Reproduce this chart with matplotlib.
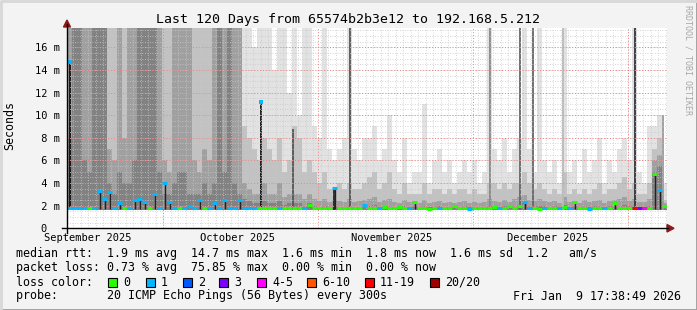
import numpy as np
import matplotlib.pyplot as plt
from matplotlib.patches import Rectangle, Polygon

W, H = 697, 310

# one value per day, day 0 = 11 Sep 2025 17:38
median = [1.8, 1.75, 1.8, 1.75, 1.8, 1.8, 3.3, 2.6, 3.2, 1.8,
          2.2, 1.8, 1.75, 2.5, 2.6, 2.3, 1.8, 3.0, 1.8, 4.0,
          2.3, 1.8, 1.75, 1.8, 2.0, 1.8, 2.5, 1.8, 1.75, 2.2,
          1.8, 2.5, 1.75, 1.8, 2.5, 1.8, 1.75, 1.8, 1.75, 1.8,
          1.75, 1.8, 1.75, 1.8, 1.75, 1.8, 1.75, 1.8, 2.1, 1.75,
          1.8, 1.75, 1.8, 3.6, 1.8, 1.75, 1.8, 1.75, 1.8, 2.1,
          1.75, 1.8, 1.75, 1.85, 1.75, 1.8, 1.9, 1.75, 1.8, 2.3,
          1.75, 1.8, 1.7, 1.8, 1.75, 1.8, 1.75, 1.95, 1.75, 1.8,
          1.7, 1.8, 1.75, 1.8, 1.75, 1.85, 1.75, 1.8, 2.0, 1.8,
          2.0, 2.3, 1.75, 1.8, 1.7, 1.8, 1.75, 1.8, 1.75, 1.85,
          1.75, 2.3, 1.75, 1.8, 1.7, 1.8, 1.75, 1.8, 1.75, 2.2,
          1.75, 1.8, 1.75, 1.8, 1.75, 1.8, 1.75, 4.8, 3.4, 2.0]

loss = [1, 1, 1, 1, 0, 1, 1, 1, 1, 1,
        1, 0, 1, 1, 1, 1, 0, 1, 1, 1,
        1, 1, 0, 1, 1, 1, 1, 0, 1, 1,
        1, 1, 1, 1, 1, 1, 1, 1, 0, 0,
        0, 0, 1, 0, 0, 0, 0, 1, 0, 0,
        0, 0, 0, 1, 0, 0, 0, 0, 0, 1,
        0, 0, 1, 0, 0, 0, 0, 0, 1, 0,
        0, 0, 0, 0, 1, 0, 0, 0, 0, 0,
        1, 0, 0, 0, 0, 0, 1, 0, 0, 0,
        0, 1, 1, 0, 0, 1, 0, 0, 1, 0,
        1, 0, 0, 0, 1, 0, 0, 1, 0, 0,
        0, 0, 0, 12, 3, 5, 0, 0, 1, 0]

# smoke band tops (ms), lightest band first
smoke_max = [18] * 30 + [
    18, 18, 18, 18, 18, 18, 18, 16, 18, 18,
    18, 14, 18, 18, 12, 18, 10, 18, 18, 9,
    8, 18, 7, 6, 7, 8, 18, 7, 6, 8,
    8, 9, 6, 7, 10, 6, 5, 8, 4, 5,
    5, 11, 4, 6, 7, 5, 6, 4, 5, 6,
    5, 6, 4, 5, 18, 7, 6, 8, 5, 7,
    8, 18, 7, 5, 18, 6, 5, 6, 4, 18,
    5, 6, 4, 7, 5, 6, 8, 4, 6, 5,
    7, 8, 6, 18, 5, 4, 9, 9, 10, 4]

smoke_mid = [18] * 35 + [
    9, 8, 7, 6, 8,
    7, 6, 8, 5, 6, 9, 8, 5, 6, 5,
    4, 5, 3.5, 3.5, 4, 3.5, 4, 3.5, 3.5, 4,
    4.5, 5, 3.5, 4, 5, 3.5, 3, 4, 3, 3,
    3, 4, 3, 3.5, 3.5, 3, 3.5, 3, 3.5, 3.5,
    3, 3.5, 3, 3, 4, 4, 3.5, 4, 3.5, 4,
    4, 5, 4, 3.5, 4, 3.5, 3, 3.5, 3, 5,
    3, 3.5, 3, 3.5, 3, 3.5, 4, 3, 3.5, 3.5,
    4, 4.5, 3.5, 4, 3, 3, 4, 7, 8, 2.5]

smoke_dark = [18, 18, 18, 18, 18, 18, 18, 18, 7, 6,
              18, 8, 18, 18, 18, 18, 18, 18, 18, 6,
              5, 18, 18, 18, 18, 6, 5, 7, 6, 18,
              18, 18, 18, 18, 18, 4, 3.5, 3, 3, 4,
              3, 3, 4, 2.8, 3, 3, 3, 2.6, 3, 2.6,
              2.4, 2.6, 2.3, 2.5, 2.4, 2.3, 2.6, 2.3, 2.4, 2.5,
              2.6, 2.8, 2.3, 2.5, 2.6, 2.3, 2.2, 2.5, 2.3, 2.4,
              2.2, 2.5, 2.2, 2.3, 2.4, 2.2, 2.3, 2.2, 2.3, 2.4,
              2.2, 2.3, 2.2, 2.3, 2.6, 2.4, 2.3, 2.5, 2.3, 2.6,
              2.8, 2.9, 2.5, 2.4, 2.6, 2.4, 2.3, 2.4, 2.2, 2.8,
              2.3, 2.4, 2.2, 2.5, 2.3, 2.4, 2.5, 2.2, 2.4, 2.5,
              2.6, 2.8, 2.4, 2.6, 2.3, 2.3, 2.6, 6, 6.5, 2.2]

smoke_core = [8, 18, 18, 6, 5, 18, 18, 18, 4, 3,
              5, 4, 4, 6, 18, 18, 18, 18, 5, 3,
              3, 4, 5, 5, 3, 3, 3, 4, 3, 4,
              18, 5, 18, 4, 3, 2.6, 2.4, 2.2, 2.2, 2.4,
              2.2, 2.2, 2.4, 2.1, 2.2, 2.2, 2.2, 2.0, 2.2, 2.0,
              1.9, 2.0, 1.9, 2.0, 1.9, 1.9, 2.0, 1.9, 1.9, 2.0,
              2.0, 2.1, 1.9, 2.0, 2.0, 1.9, 1.9, 2.0, 1.9, 2.0,
              1.9, 2.0, 1.9, 1.9, 2.0, 1.9, 1.9, 1.9, 1.9, 2.0,
              1.9, 1.9, 1.9, 1.9, 2.0, 2.0, 1.9, 2.0, 1.9, 2.0,
              2.1, 2.2, 2.0, 2.0, 2.0, 2.0, 1.9, 2.0, 1.9, 2.1,
              1.9, 2.0, 1.9, 2.0, 1.9, 2.0, 2.0, 1.9, 2.0, 2.0,
              2.0, 2.1, 2.0, 2.0, 1.9, 1.9, 2.0, 5.0, 5.5, 1.9]
smoke_low = 1.6

# thin single-sample stripes
spike_day = [0.5, 38.8, 45.2, 53.4, 56.6, 84.6, 90.6, 93.2, 99.2, 113.6, 119.2]
spike_top = [14.7, 11.2, 8.8, 3.6, 18, 18, 18, 18, 18, 18, 10]
spike_gray = ['#111111', '#111111', '#555555', '#222222', '#555555', '#888888',
              '#666666', '#666666', '#bbbbbb', '#333333', '#999999']

month_labels = ['September 2025', 'October 2025', 'November 2025', 'December 2025']
month_label_day = [4.2, 34.2, 65.0, 96.2]
month_start_day = [19.2, 50.2, 81.2, 112.2]

loss_levels = [0, 1, 2, 3, 5, 10, 19, 20]
loss_colors = ['#26ff00', '#00b8ff', '#0059ff', '#7e00ff', '#ff00ff', '#ff5500', '#ff0000', '#a10000']
loss_names = ['0', '1', '2', '3', '4-5', '6-10', '11-19', '20/20']
loss_box_x = [108, 146, 183, 219, 257, 307, 365, 430]


def lcol(n):
    for lv, c in zip(loss_levels, loss_colors):
        if n <= lv:
            return c
    return loss_colors[-1]


def fx(x):
    return x / W


def fy(y):
    return 1 - y / H


mono = 'DejaVu Sans Mono'
fig = plt.figure(figsize=(W / 100, H / 100), dpi=100, facecolor='#f3f3f3')
ax = fig.add_axes([fx(67), fy(228.3), 600 / W, 200.3 / H])
ax.set_facecolor('white')
ymax = 17.7
ax.set_xlim(0, 120)
ax.set_ylim(0, ymax)

days = np.arange(120)
lo = np.full(120, smoke_low)
bands = [(smoke_max, '#e2e2e2'), (smoke_mid, '#c2c2c2'), (smoke_dark, '#a0a0a0'), (smoke_core, '#828282')]
for i, (top, c) in enumerate(bands):
    ax.bar(days, np.array(top) - lo, bottom=lo, width=1, align='edge', color=c, lw=0, zorder=1 + 0.1 * i)
ax.vlines(spike_day, smoke_low, spike_top, colors=spike_gray, lw=1.3, zorder=1.5)

# grid
for d in np.arange(112.2 % 1.5, 120, 1.5):
    ax.axvline(d, color='#c8c8c8', lw=0.6, ls=(0, (1, 2)), zorder=2)
for v in np.arange(0.5, ymax, 0.5):
    ax.axhline(v, color='#c8c8c8', lw=0.6, ls=(0, (1, 2)), zorder=2)
for d in month_start_day:
    ax.axvline(d, color='#f08080', lw=0.7, ls=(0, (1, 2)), zorder=2.1)
for v in range(2, 18, 2):
    ax.axhline(v, color='#f08080', lw=0.7, ls=(0, (1, 2)), zorder=2.1)

# median
med = np.array(median)
up = med > 2.1
ax.vlines(days[up] + 0.5, 1.7, med[up], colors='#222222', lw=1, zorder=3)
ax.hlines(med, days, days + 1, colors=[lcol(n) for n in loss], lw=2.2, zorder=4)
ax.plot(spike_day[:2], spike_top[:2], 's', ms=2.2, color=loss_colors[1], mew=0, zorder=4)

for s in ax.spines.values():
    s.set_visible(False)
ax.set_yticks(range(0, 18, 2))
ax.set_yticklabels(['0  '] + ['%2d m' % v for v in range(2, 18, 2)], family=mono, fontsize=7.5)
ax.tick_params(axis='y', length=0, pad=5)
ax.set_xticks(month_label_day)
ax.set_xticklabels(month_labels, family=mono, fontsize=7.5)
ax.tick_params(axis='x', length=0, pad=3.5)

# axis lines and arrows
fig.add_artist(plt.Line2D([fx(62), fx(668)], [fy(228.3), fy(228.3)], color='black', lw=1))
fig.add_artist(plt.Line2D([fx(67), fx(67)], [fy(233), fy(24)], color='black', lw=1))
fig.add_artist(Polygon([[fx(667), fy(224.5)], [fx(674), fy(228.3)], [fx(667), fy(232)]],
                       closed=True, color='#8b1a1a', transform=fig.transFigure))
fig.add_artist(Polygon([[fx(63.5), fy(27)], [fx(67), fy(20)], [fx(70.5), fy(27)]],
                       closed=True, color='#8b1a1a', transform=fig.transFigure))

# border
fig.add_artist(plt.Line2D([fx(0.5), fx(696.5), fx(696.5)], [fy(309.5), fy(309.5), fy(0.5)],
                          color='#9c9c9c', lw=2))
fig.add_artist(plt.Line2D([fx(0.5), fx(0.5), fx(696.5)], [fy(309.5), fy(0.5), fy(0.5)],
                          color='#d8d8d8', lw=2))

fig.text(fx(348), fy(19), 'Last 120 Days from 65574b2b3e12 to 192.168.5.212',
         family=mono, fontsize=9.5, ha='center', va='center')
fig.text(fx(10), fy(126), 'Seconds', family=mono, fontsize=8.4, rotation=90, ha='center', va='center')
fig.text(fx(688), fy(5), 'RRDTOOL / TOBI OETIKER', family=mono, fontsize=6, rotation=270,
         ha='center', va='top', color='#a8a8a8')

rows = ['median rtt:  1.9 ms avg  14.7 ms max  1.6 ms min  1.8 ms now  1.6 ms sd  1.2   am/s',
        'packet loss: 0.73 % avg  75.85 % max  0.00 % min  0.00 % now',
        'loss color:',
        'probe:       20 ICMP Echo Pings (56 Bytes) every 300s']
for i, r in enumerate(rows):
    fig.text(fx(16), fy(254 + 14 * i), r, family=mono, fontsize=8.4, ha='left', va='center')
for bx, c, name in zip(loss_box_x, loss_colors, loss_names):
    fig.add_artist(Rectangle((fx(bx), fy(286.5)), 9 / W, 9 / H, facecolor=c, edgecolor='black',
                             lw=0.8, transform=fig.transFigure))
    fig.text(fx(bx + 15), fy(282), name, family=mono, fontsize=8.4, ha='left', va='center')
fig.text(fx(681), fy(296), 'Fri Jan  9 17:38:49 2026', family=mono, fontsize=8.4, ha='right', va='center')

fig.savefig('out.png', dpi=100, facecolor=fig.get_facecolor())
